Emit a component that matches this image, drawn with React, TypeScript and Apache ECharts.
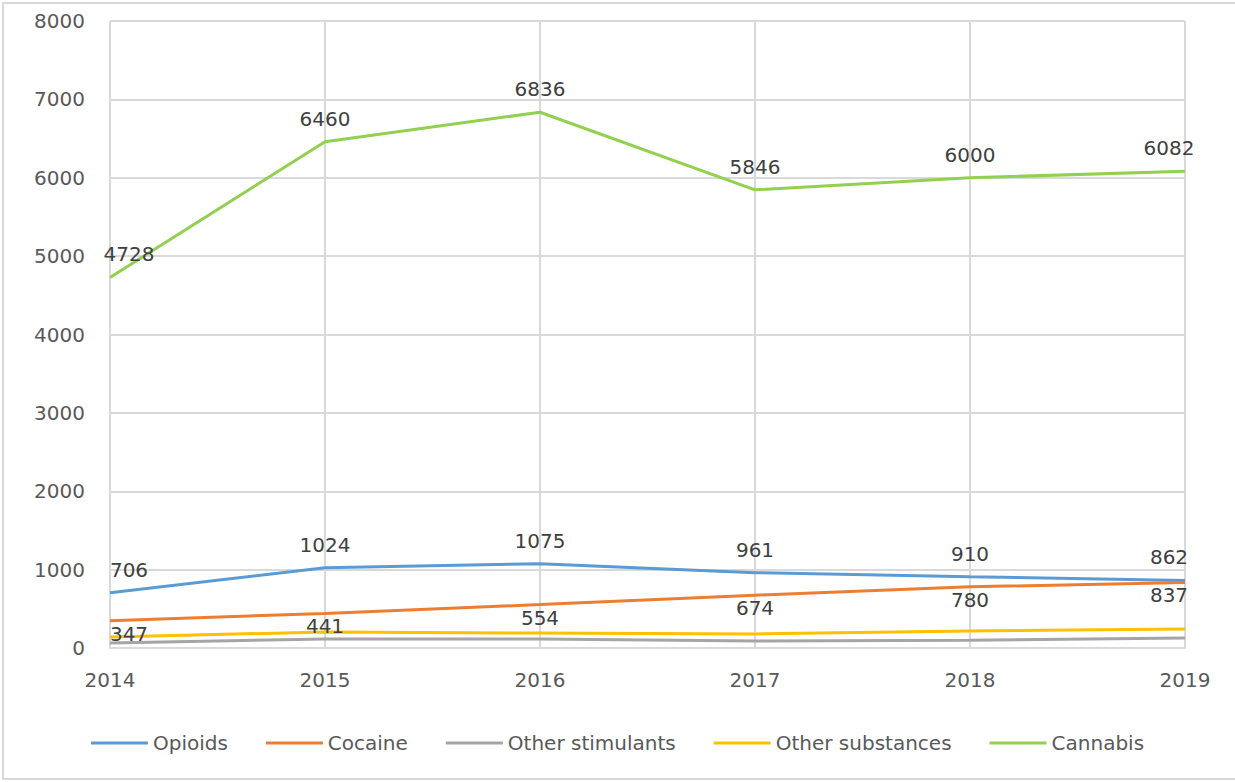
import React, { useEffect, useRef } from "react";
import * as echarts from "echarts";

const years = ["2014", "2015", "2016", "2017", "2018", "2019"];
const opioids = [706, 1024, 1075, 961, 910, 862];
const cocaine = [347, 441, 554, 674, 780, 837];
const otherStimulants = [64, 115, 115, 90, 100, 128];
const otherSubstances = [140, 204, 190, 180, 217, 242];
const cannabis = [4728, 6460, 6836, 5846, 6000, 6082];

const FONT = "DejaVu Sans";

type SeriesDef = {
  name: string;
  data: number[];
  color: string;
  label: "top" | "bottom" | null;
};

const seriesDefs: SeriesDef[] = [
  { name: "Opioids", data: opioids, color: "#5b9bd5", label: "top" },
  { name: "Cocaine", data: cocaine, color: "#ed7d31", label: "bottom" },
  { name: "Other stimulants", data: otherStimulants, color: "#a5a5a5", label: null },
  { name: "Other substances", data: otherSubstances, color: "#ffc000", label: null },
  { name: "Cannabis", data: cannabis, color: "#92d050", label: "top" },
];

function buildSeries(def: SeriesDef) {
  const last = def.data.length - 1;
  return {
    name: def.name,
    type: "line",
    data: def.data,
    symbol: "circle",
    symbolSize: 0,
    showSymbol: true,
    smooth: false,
    lineStyle: { color: def.color, width: 3 },
    itemStyle: { color: def.color },
    label: def.label
      ? {
          show: true,
          position: def.label,
          distance: def.label === "top" ? 13 : 3,
          color: "#404040",
          fontFamily: FONT,
          fontSize: 20,
        }
      : { show: false },
    // keep the end labels inside the plot area
    labelLayout: (p: any) => ({
      dx: p.dataIndex === 0 ? 19 : p.dataIndex === last ? -16 : 0,
      hideOverlap: false,
    }),
    z: def.name === "Other stimulants" ? 1 : 2,
  };
}

export default function App() {
  const ref = useRef<HTMLDivElement>(null);

  useEffect(() => {
    if (!ref.current) return;
    const chart = echarts.init(ref.current, undefined, { renderer: "svg" });
    chart.setOption({
      animation: false,
      backgroundColor: "#ffffff",
      textStyle: { fontFamily: FONT },
      graphic: [
        {
          type: "rect",
          shape: { x: 3, y: 3, width: 1245, height: 776 },
          style: { fill: "none", stroke: "#d9d9d9", lineWidth: 2 },
          silent: true,
          z: -10,
        },
      ],
      grid: { left: 110, right: 50, top: 21, bottom: 134, containLabel: false },
      legend: {
        bottom: 24,
        left: "center",
        itemWidth: 57,
        itemHeight: 3,
        itemGap: 38,
        icon: "rect",
        textStyle: { color: "#595959", fontFamily: FONT, fontSize: 20 },
        data: seriesDefs.map((s) => s.name),
      },
      xAxis: {
        type: "category",
        data: years,
        boundaryGap: false,
        axisLine: { lineStyle: { color: "#d9d9d9", width: 2 } },
        axisTick: { show: false },
        axisLabel: { color: "#595959", fontFamily: FONT, fontSize: 20, margin: 22 },
        splitLine: { show: true, lineStyle: { color: "#d9d9d9", width: 2 } },
      },
      yAxis: {
        type: "value",
        min: 0,
        max: 8000,
        interval: 1000,
        axisLine: { show: false },
        axisTick: { show: false },
        axisLabel: {
          color: "#595959",
          fontFamily: FONT,
          fontSize: 20,
          margin: 25,
          formatter: (v: number) => String(v),
        },
        splitLine: { show: true, lineStyle: { color: "#d9d9d9", width: 2 } },
      },
      series: seriesDefs.map(buildSeries),
    });
    return () => chart.dispose();
  }, []);

  return (
    <div
      ref={ref}
      style={{ position: "fixed", left: 0, top: 0, width: 1235, height: 782, background: "#fff" }}
    />
  );
}
